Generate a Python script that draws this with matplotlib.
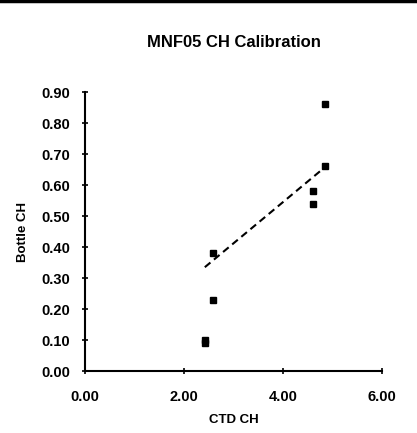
import matplotlib
matplotlib.use("Agg")
import matplotlib.pyplot as plt
from matplotlib.lines import Line2D

plt.rcParams['font.family'] = ['Liberation Sans', 'DejaVu Sans']

ctd_ch = [2.42, 2.42, 2.59, 2.59, 4.61, 4.61, 4.85, 4.85]
bottle_ch = [0.10, 0.09, 0.23, 0.38, 0.58, 0.54, 0.66, 0.86]
trend_x = [2.42, 4.79]
trend_y = [0.335, 0.65]
xticks = [0, 2, 4, 6]
yticks = [0.0, 0.1, 0.2, 0.3, 0.4, 0.5, 0.6, 0.7, 0.8, 0.9]

fig = plt.figure(figsize=(4.17, 4.33), dpi=100)
ax = fig.add_axes([0.204, 0.143, 0.712, 0.6445])

ax.plot(ctd_ch, bottle_ch, linestyle='none', marker='s', markersize=4.5,
        color='black')
ax.plot(trend_x, trend_y, color='black', linestyle=(0, (3.5, 2.2)), linewidth=1.5)

ax.set_xlim(0, 6)
ax.set_ylim(0, 0.9)
ax.set_xticks(xticks)
ax.set_yticks(yticks)
ax.set_xticklabels([f"{v:.2f}" for v in xticks], fontsize=10.5, fontweight='bold')
ax.set_yticklabels([f"{v:.2f}" for v in yticks], fontsize=10.5, fontweight='bold')
ax.tick_params(axis='y', direction='inout', length=5, width=1.2, pad=8)
ax.tick_params(axis='x', direction='inout', length=5, width=1.2, pad=11)
for s in ['top', 'right']:
    ax.spines[s].set_visible(False)
for s in ['left', 'bottom']:
    ax.spines[s].set_linewidth(1.5)

ax.set_xlabel('CTD CH', fontsize=9.5, fontweight='bold', labelpad=7)
ax.set_ylabel('Bottle CH', fontsize=9.5, fontweight='bold', labelpad=9)
fig.text(0.56, 0.903, 'MNF05 CH Calibration', ha='center', va='center',
         fontsize=12, fontweight='bold')

fig.add_artist(Line2D([0, 1], [0.997, 0.997], color='black', linewidth=2.5,
                      transform=fig.transFigure))

fig.savefig('out.png', dpi=100)
